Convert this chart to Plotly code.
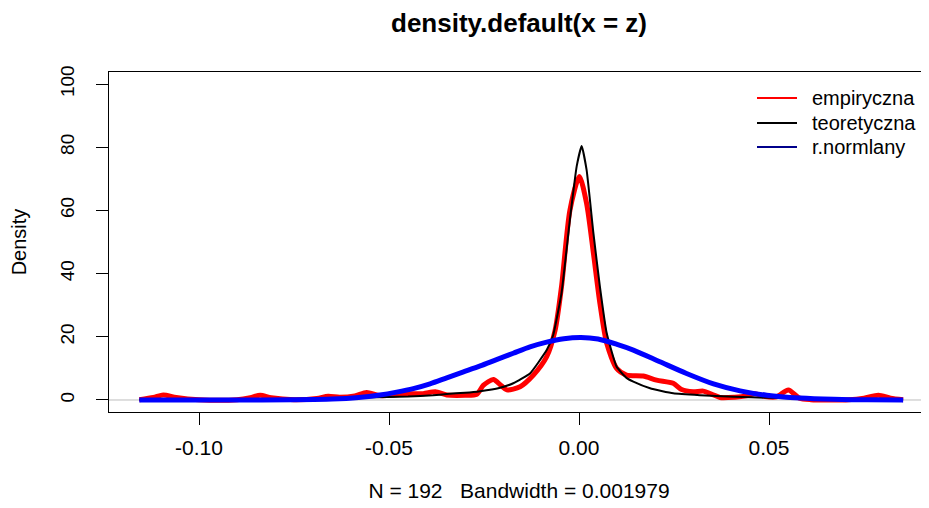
import plotly.graph_objects as go

# ---- data ----
emp_x = [-0.1157, -0.112, -0.1094, -0.106, -0.100, -0.090, -0.0865, -0.0839, -0.081, -0.075,
         -0.069, -0.0660, -0.063, -0.059, -0.0559, -0.0525, -0.049, -0.045, -0.041, -0.0378,
         -0.0348, -0.030, -0.0269, -0.0252, -0.02255, -0.0205, -0.0190, -0.0155, -0.0120, -0.0085,
         -0.0063, -0.0046, -0.0024, 0.0001, 0.0020, 0.0038, 0.0055, 0.0073, 0.0099, 0.0125,
         0.0169, 0.0204, 0.0248, 0.0270, 0.0300, 0.0327, 0.0350, 0.0371, 0.041, 0.0440,
         0.0463, 0.0490, 0.0520, 0.0551, 0.0580, 0.061, 0.066, 0.071, 0.075, 0.0788, 0.082, 0.0853]
emp_y = [0.1, 0.8, 1.6, 0.8, 0.1, 0.1, 0.7, 1.5, 0.7, 0.1,
         0.5, 1.2, 0.9, 1.3, 2.4, 1.4, 1.5, 2.0, 2.0, 2.6,
         1.6, 1.5, 1.8, 4.6, 6.5, 4.6, 3.2, 4.2, 7.9, 13.7,
         22.0, 35.9, 60.0, 70.7, 62.2, 46.4, 30.6, 17.9, 10.0, 7.9,
         7.6, 6.3, 5.3, 3.3, 2.6, 2.8, 1.8, 0.8, 0.9, 1.3,
         2.0, 1.1, 1.0, 3.2, 0.6, 0.1, 0.0, 0.1, 0.6, 1.5, 0.6, 0.1]

teo_x = [-0.1157, -0.090, -0.070, -0.0558, -0.0450, -0.0384, -0.0348, -0.0300, -0.0260, -0.0210,
         -0.0173, -0.0129, -0.0085, -0.0068, -0.0046, -0.0024, -0.0006, 0.0007, 0.0020, 0.0038,
         0.0055, 0.0073, 0.0099, 0.0125, 0.0143, 0.0187, 0.0248, 0.0318, 0.0406, 0.0500,
         0.0670, 0.0853]
teo_y = [0.1, 0.2, 0.4, 0.8, 1.1, 1.5, 1.9, 2.3, 2.8, 3.8,
         5.3, 8.4, 15.8, 20.5, 33.8, 57.0, 74.0, 80.4, 72.8, 52.7,
         35.9, 21.1, 10.5, 7.0, 5.8, 3.7, 2.1, 1.5, 1.0, 0.7,
         0.3, 0.1]

nor_x = [-0.1157, -0.090, -0.075, -0.065, -0.058, -0.0524, -0.0480, -0.0436, -0.0392, -0.0348,
         -0.0304, -0.0260, -0.0217, -0.0173, -0.0129, -0.0085, -0.0040, 0.0005, 0.0050, 0.0100,
         0.0143, 0.0213, 0.0283, 0.0354, 0.0424, 0.0494, 0.0582, 0.0670, 0.0760, 0.0853]
nor_y = [0.0, 0.0, 0.1, 0.3, 0.8, 1.6, 2.5, 3.6, 5.1, 7.0,
         8.9, 10.8, 12.8, 14.8, 16.8, 18.3, 19.4, 19.8, 19.3, 17.6,
         15.8, 12.1, 8.4, 5.1, 2.9, 1.5, 0.6, 0.2, 0.05, 0.0]

x_ticks = [-0.10, -0.05, 0.00, 0.05]
x_tick_labels = ["-0.10", "-0.05", "0.00", "0.05"]
y_ticks = [0, 20, 40, 60, 80, 100]
y_tick_labels = ["0", "20", "40", "60", "80", "100"]

series_names = ["empiryczna", "teoretyczna", "r.normlany"]
legend_colors = ["#FF0000", "#000000", "#00008B"]

FONT = "Liberation Sans, Arial, sans-serif"

# figure geometry (pixels inside the figure)
W, H = 921, 500
L, R, T, B = 101, 921, 64, 404
PW, PH = R - L, B - T

def px(xp):
    return (xp - L) / PW

def py(yp):
    return (B - yp) / PH

fig = go.Figure()
fig.add_trace(go.Scatter(x=emp_x, y=emp_y, mode="lines", name=series_names[0], showlegend=False,
                         line=dict(color="#FF0000", width=5, shape="spline", smoothing=0.7)))
fig.add_trace(go.Scatter(x=teo_x, y=teo_y, mode="lines", name=series_names[1], showlegend=False,
                         line=dict(color="#000000", width=2, shape="spline", smoothing=0.4)))
fig.add_trace(go.Scatter(x=nor_x, y=nor_y, mode="lines", name=series_names[2], showlegend=False,
                         line=dict(color="#0000FF", width=5, shape="spline", smoothing=0.8)))

# zero line
fig.add_shape(type="line", xref="paper", x0=0, x1=1, yref="y", y0=0, y1=0,
              line=dict(color="#BEBEBE", width=1), layer="below")

# legend (R style, no box)
row_y = [90, 115, 139]
for name, col, ry in zip(series_names, legend_colors, row_y):
    fig.add_shape(type="line", xref="paper", yref="paper", x0=px(749), x1=px(789), y0=py(ry), y1=py(ry),
                  line=dict(color=col, width=2))
    fig.add_annotation(text=name, xref="paper", yref="paper", x=px(802), y=py(ry),
                       xanchor="left", yanchor="middle", showarrow=False,
                       font=dict(family=FONT, size=20, color="black"))

fig.update_layout(
    width=W, height=H,
    margin=dict(l=L, r=W - R, t=T, b=H - B),
    paper_bgcolor="white", plot_bgcolor="white",
    font=dict(family=FONT, size=21, color="black"),
    title=dict(text="<b>density.default(x = z)</b>", x=0.5, xref="paper", xanchor="center",
               y=1 - 15 / H, yref="container", yanchor="middle",
               font=dict(family=FONT, size=26, color="black")),
    showlegend=False,
    xaxis=dict(range=[(101 - 571) / 3800, (921 - 571) / 3800], tickvals=x_ticks, ticktext=x_tick_labels,
               showgrid=False, zeroline=False, showline=True, linecolor="black", linewidth=1, mirror=True,
               ticks="outside", ticklen=12, tickcolor="black", tickwidth=1,
               tickfont=dict(family=FONT, size=21, color="black"), ticklabelstandoff=5,
               title=dict(text="N = 192   Bandwidth = 0.001979", standoff=25,
                          font=dict(family=FONT, size=21, color="black"))),
    yaxis=dict(range=[-3.8, 103.8], tickvals=y_ticks, ticktext=y_tick_labels,
               showgrid=False, zeroline=False, showline=True, linecolor="black", linewidth=1, mirror=False,
               ticks="outside", ticklen=12, tickcolor="black", tickwidth=1, tickangle=-90,
               tickfont=dict(family=FONT, size=19, color="black"), ticklabelstandoff=14,
               title=dict(text="Density", standoff=31,
                          font=dict(family=FONT, size=20, color="black"))),
)

fig.write_html("out.html")
